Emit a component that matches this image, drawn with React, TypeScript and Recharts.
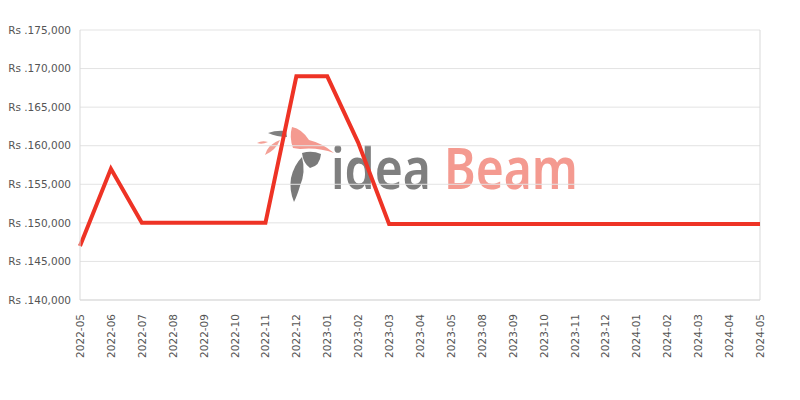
import { CartesianGrid, Line, LineChart, ReferenceLine, XAxis, YAxis } from 'recharts';

const MONTHS = [
  '2022-05', '2022-06', '2022-07', '2022-08', '2022-09', '2022-10', '2022-11', '2022-12',
  '2023-01', '2023-02', '2023-03', '2023-04', '2023-05', '2023-08', '2023-09', '2023-10',
  '2023-11', '2023-12', '2024-01', '2024-02', '2024-03', '2024-04', '2024-05',
];

const PRICES = [
  147000, 157000, 150000, 150000, 150000, 150000, 150000, 169000,
  169000, 160400, 149850, 149850, 149850, 149850, 149850, 149850,
  149850, 149850, 149850, 149850, 149850, 149850, 149850,
];

const Y_TICKS = [140000, 145000, 150000, 155000, 160000, 165000, 170000, 175000];

const FONT = '"DejaVu Sans", sans-serif';
const TEXT = '#555';
const GRID = '#e3e3e3';
const BORDER = '#d9d9d9';
const RED = '#ee3325';

const data = MONTHS.map((m, i) => ({ month: m, price: PRICES[i] }));

const fmt = (v: number) => `Rs .${v.toLocaleString('en-US')}`;

function MonthTick({ x, y, payload }: any) {
  return (
    <text
      x={x}
      y={y + 6}
      transform={`rotate(-90, ${x}, ${y + 6})`}
      textAnchor="end"
      dominantBaseline="central"
      fontSize={10.5}
      fontFamily={FONT}
      fill={TEXT}
    >
      {payload.value}
    </text>
  );
}

// ideaBeam logo behind the plot
function Watermark() {
  const logoFont = '"Noto Sans", sans-serif';
  return (
    <svg width={800} height={400} style={{ position: 'absolute', left: 0, top: 0 }}>
      <path d="M257,143 Q262,140 268,142 Q262,145 257,143 Z" fill="#f4a096" />
      <path d="M265,155 Q268,144 280,140 Q276,150 265,155 Z" fill="#f4a096" />
      <path d="M268,133 Q276,130 286,131 L287,137 Q277,137 268,133 Z" fill="#808080" />
      <path d="M292,127 Q302,129 309,140 Q322,143 334,153 Q318,147 300,149 L293,148 Q289,137 292,127 Z" fill="#f49a90" />
      <path d="M302,153 Q312,150 321,154 Q320,166 310,168 Q303,163 302,153 Z" fill="#7a7a7a" />
      <path d="M302,157 Q306,172 300,186 Q297,196 294,202 Q289,190 291,178 Q294,165 302,157 Z" fill="#7a7a7a" />
      <text x={331} y={189} fontSize={58} fontWeight={600} fontFamily={logoFont} fill="#7f7f7f" textLength={100} lengthAdjust="spacingAndGlyphs">
        idea
      </text>
      <text x={444} y={189} fontSize={58} fontWeight={600} fontFamily={logoFont} fill="#f49a90" textLength={134} lengthAdjust="spacingAndGlyphs">
        Beam
      </text>
    </svg>
  );
}

export default function App() {
  return (
    <div style={{ position: 'absolute', left: 0, top: 0, width: 800, height: 400, background: '#fff' }}>
      <Watermark />
      <div style={{ position: 'absolute', left: 0, top: 0 }}>
        <LineChart width={800} height={400} data={data} margin={{ top: 30, right: 40, bottom: 0, left: 0 }}>
          <CartesianGrid stroke={GRID} vertical={false} />
          <XAxis
            dataKey="month"
            interval={0}
            height={100}
            tick={<MonthTick />}
            tickLine={false}
            axisLine={{ stroke: BORDER }}
          />
          <YAxis
            domain={[140000, 175000]}
            ticks={Y_TICKS}
            width={80}
            tickFormatter={fmt}
            tick={{ fontSize: 10.5, fill: TEXT, fontFamily: FONT }}
            tickLine={false}
            tickSize={6}
            tickMargin={3}
            axisLine={{ stroke: BORDER }}
          />
          <ReferenceLine x="2024-05" stroke={BORDER} />
          <Line
            type="linear"
            dataKey="price"
            stroke={RED}
            strokeWidth={4}
            dot={false}
            activeDot={false}
            isAnimationActive={false}
          />
        </LineChart>
      </div>
    </div>
  );
}
